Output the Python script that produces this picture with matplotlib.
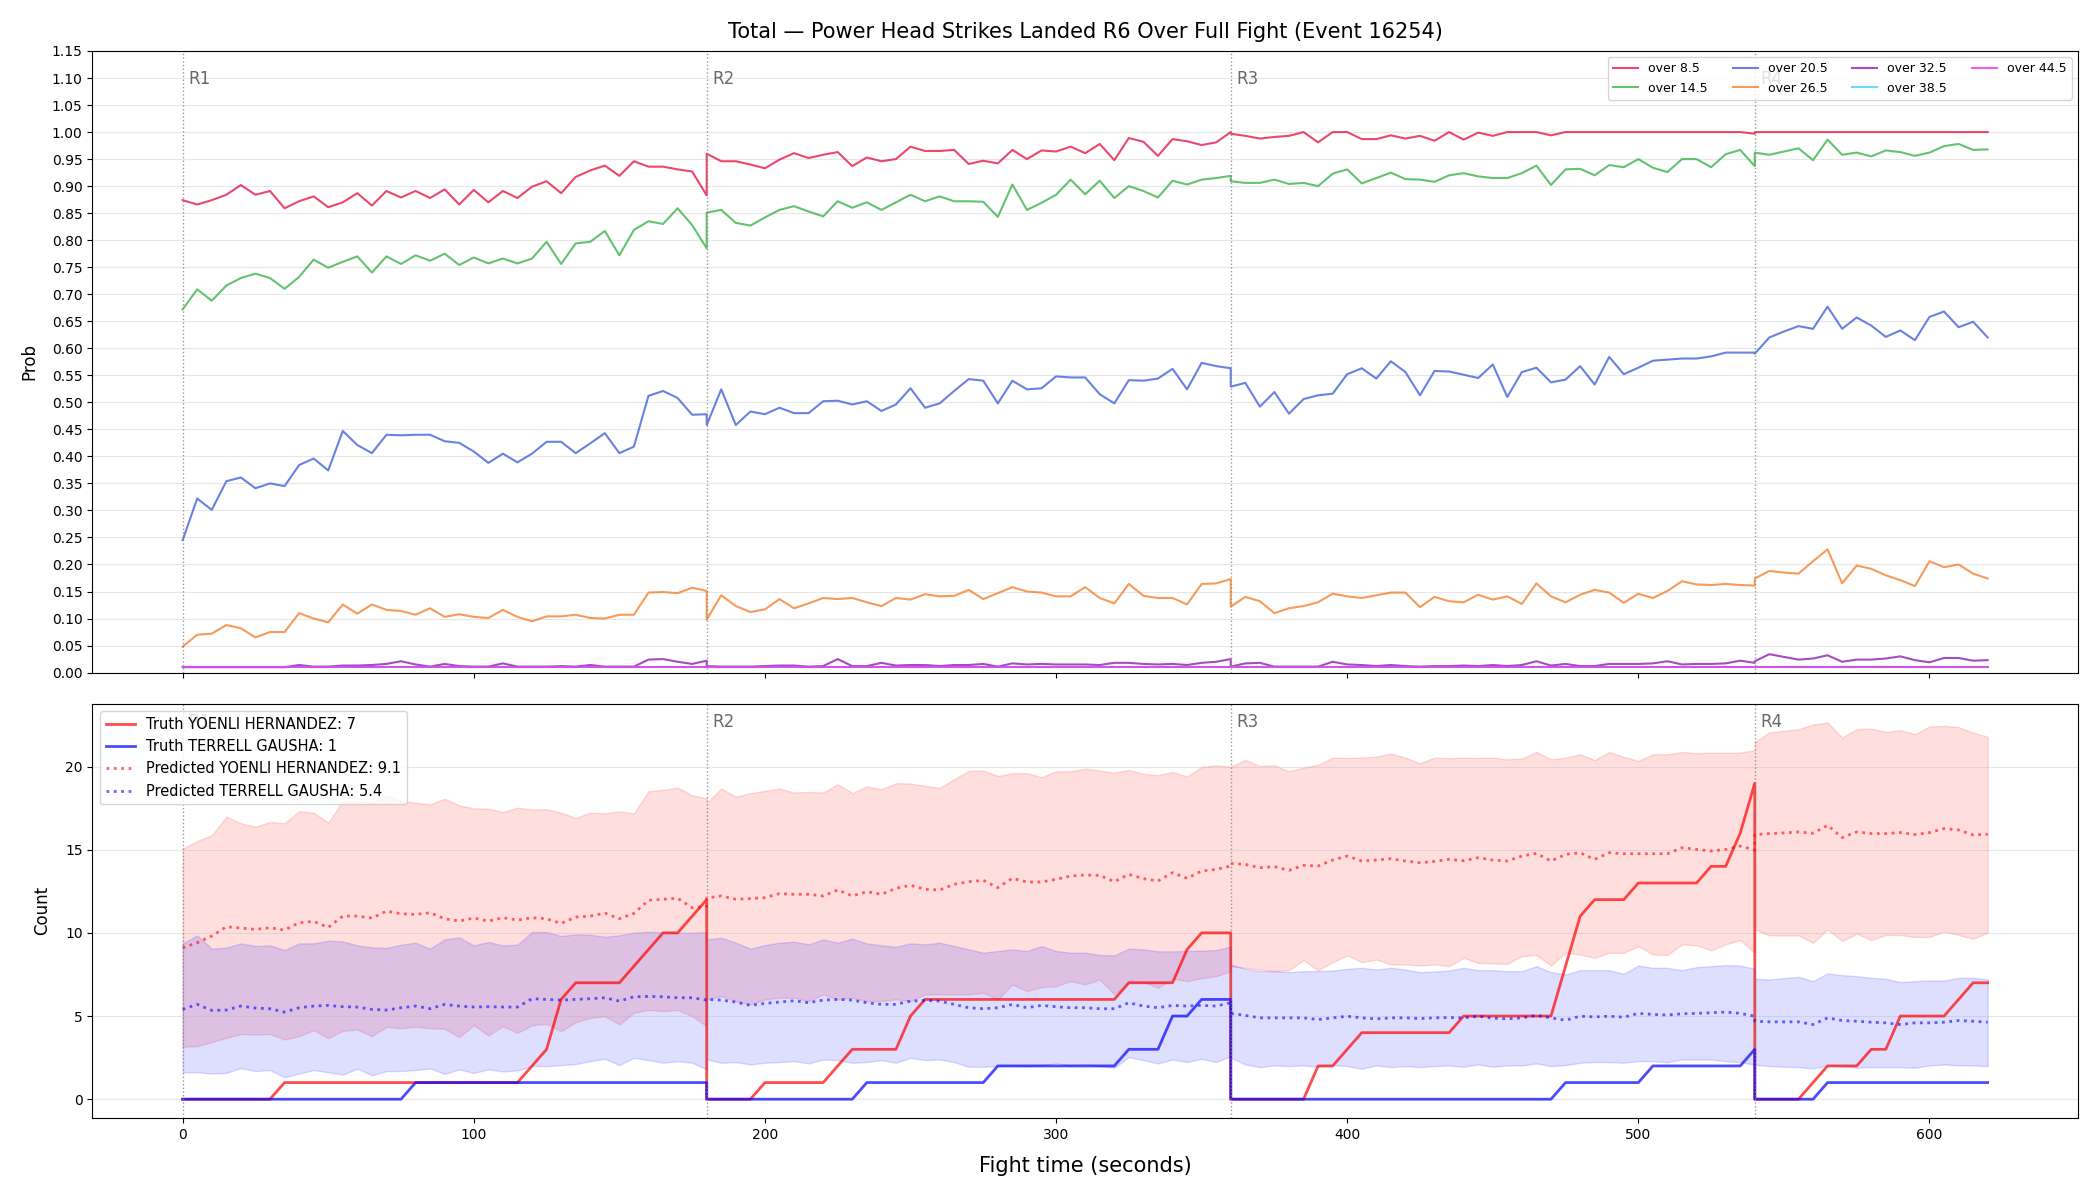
import numpy as np
import matplotlib
matplotlib.use("Agg")
from matplotlib import pyplot as plt

# ---------------- dati ----------------
# griglia temporale (ogni round: 5 s, il primo punto del round coincide con l'ultimo del precedente)
t_r1 = np.arange(0, 181, 5)
t_r2 = np.arange(180, 361, 5)
t_r3 = np.arange(360, 541, 5)
t_r4 = np.arange(540, 621, 5)
t = np.concatenate([t_r1, t_r2, t_r3, t_r4])

round_starts = [0, 180, 360, 540]
round_labels = ["R1", "R2", "R3", "R4"]

# probabilita' over (pannello sopra)
over_8_5 = ([0.874, 0.866, 0.874, 0.884, 0.902, 0.884, 0.891, 0.859, 0.872, 0.881, 0.861, 0.870, 0.887, 0.864, 0.891, 0.879, 0.891, 0.878, 0.894, 0.866, 0.893, 0.870, 0.891, 0.878, 0.899, 0.909, 0.887, 0.917, 0.929, 0.938, 0.919, 0.946, 0.936, 0.936, 0.931, 0.927, 0.883]
            + [0.960, 0.946, 0.946, 0.940, 0.933, 0.949, 0.961, 0.952, 0.958, 0.963, 0.937, 0.953, 0.946, 0.950, 0.973, 0.965, 0.965, 0.967, 0.941, 0.947, 0.942, 0.967, 0.950, 0.966, 0.964, 0.973, 0.961, 0.978, 0.948, 0.989, 0.982, 0.956, 0.987, 0.983, 0.976, 0.981, 1.000]
            + [0.997, 0.993, 0.988, 0.991, 0.993, 1.000, 0.981, 1.000, 1.000, 0.987, 0.987, 0.994, 0.988, 0.993, 0.984, 1.000, 0.986, 0.999, 0.993, 1.000, 1.000, 1.000, 0.994, 1.000, 1.000, 1.000, 1.000, 1.000, 1.000, 1.000, 1.000, 1.000, 1.000, 1.000, 1.000, 1.000, 0.997]
            + [1.000] * 17)
over_14_5 = ([0.672, 0.709, 0.688, 0.716, 0.730, 0.738, 0.730, 0.710, 0.732, 0.764, 0.749, 0.760, 0.770, 0.740, 0.770, 0.756, 0.772, 0.762, 0.775, 0.754, 0.768, 0.757, 0.766, 0.757, 0.766, 0.797, 0.756, 0.794, 0.797, 0.817, 0.772, 0.819, 0.835, 0.830, 0.859, 0.828, 0.785]
             + [0.851, 0.856, 0.832, 0.827, 0.842, 0.856, 0.863, 0.853, 0.844, 0.872, 0.860, 0.870, 0.856, 0.870, 0.884, 0.872, 0.881, 0.872, 0.872, 0.871, 0.843, 0.903, 0.856, 0.869, 0.884, 0.912, 0.885, 0.910, 0.878, 0.900, 0.891, 0.879, 0.910, 0.903, 0.912, 0.915, 0.919]
             + [0.909, 0.906, 0.906, 0.912, 0.904, 0.906, 0.900, 0.923, 0.931, 0.905, 0.915, 0.925, 0.913, 0.912, 0.908, 0.920, 0.924, 0.918, 0.915, 0.915, 0.924, 0.938, 0.902, 0.931, 0.932, 0.920, 0.939, 0.935, 0.950, 0.934, 0.926, 0.950, 0.950, 0.935, 0.959, 0.967, 0.937]
             + [0.962, 0.958, 0.964, 0.970, 0.948, 0.986, 0.958, 0.962, 0.955, 0.966, 0.963, 0.956, 0.962, 0.974, 0.978, 0.967, 0.968])
over_20_5 = ([0.245, 0.322, 0.301, 0.354, 0.361, 0.341, 0.350, 0.345, 0.384, 0.396, 0.374, 0.447, 0.421, 0.406, 0.440, 0.439, 0.440, 0.440, 0.428, 0.425, 0.409, 0.388, 0.405, 0.389, 0.405, 0.427, 0.427, 0.406, 0.424, 0.443, 0.406, 0.418, 0.512, 0.521, 0.508, 0.477, 0.478]
             + [0.458, 0.524, 0.458, 0.483, 0.478, 0.490, 0.480, 0.480, 0.502, 0.503, 0.496, 0.502, 0.484, 0.496, 0.526, 0.490, 0.498, 0.521, 0.543, 0.540, 0.498, 0.540, 0.524, 0.526, 0.548, 0.546, 0.546, 0.515, 0.498, 0.541, 0.540, 0.544, 0.562, 0.524, 0.573, 0.567, 0.563]
             + [0.529, 0.536, 0.492, 0.519, 0.479, 0.506, 0.513, 0.516, 0.552, 0.563, 0.544, 0.576, 0.556, 0.513, 0.558, 0.557, 0.551, 0.545, 0.570, 0.510, 0.556, 0.564, 0.537, 0.542, 0.567, 0.533, 0.584, 0.552, 0.564, 0.577, 0.579, 0.581, 0.581, 0.585, 0.592, 0.592, 0.592]
             + [0.590, 0.620, 0.631, 0.641, 0.636, 0.677, 0.636, 0.657, 0.642, 0.621, 0.633, 0.615, 0.658, 0.668, 0.639, 0.649, 0.620])
over_26_5 = ([0.048, 0.070, 0.072, 0.088, 0.082, 0.065, 0.075, 0.075, 0.110, 0.100, 0.093, 0.126, 0.109, 0.126, 0.116, 0.114, 0.107, 0.119, 0.103, 0.108, 0.103, 0.101, 0.116, 0.103, 0.095, 0.104, 0.104, 0.107, 0.101, 0.100, 0.107, 0.107, 0.148, 0.149, 0.147, 0.157, 0.151]
             + [0.098, 0.143, 0.123, 0.112, 0.117, 0.136, 0.119, 0.128, 0.138, 0.136, 0.138, 0.130, 0.123, 0.138, 0.135, 0.145, 0.141, 0.142, 0.153, 0.136, 0.147, 0.158, 0.150, 0.148, 0.141, 0.141, 0.158, 0.138, 0.128, 0.164, 0.142, 0.138, 0.138, 0.126, 0.164, 0.165, 0.173]
             + [0.122, 0.140, 0.132, 0.110, 0.119, 0.123, 0.130, 0.146, 0.141, 0.138, 0.143, 0.148, 0.148, 0.121, 0.140, 0.132, 0.130, 0.144, 0.135, 0.141, 0.127, 0.165, 0.141, 0.130, 0.144, 0.153, 0.148, 0.129, 0.146, 0.138, 0.151, 0.169, 0.163, 0.162, 0.164, 0.162, 0.161]
             + [0.174, 0.188, 0.185, 0.183, 0.206, 0.228, 0.165, 0.198, 0.192, 0.180, 0.171, 0.160, 0.206, 0.195, 0.200, 0.183, 0.174])
over_32_5 = ([0.010, 0.010, 0.010, 0.010, 0.010, 0.010, 0.010, 0.010, 0.014, 0.011, 0.011, 0.013, 0.013, 0.014, 0.016, 0.021, 0.015, 0.011, 0.016, 0.012, 0.011, 0.011, 0.017, 0.011, 0.011, 0.011, 0.012, 0.011, 0.014, 0.011, 0.011, 0.011, 0.024, 0.025, 0.020, 0.016, 0.022]
             + [0.012, 0.011, 0.011, 0.011, 0.012, 0.013, 0.013, 0.011, 0.012, 0.025, 0.012, 0.012, 0.018, 0.013, 0.014, 0.014, 0.012, 0.014, 0.014, 0.016, 0.011, 0.017, 0.015, 0.016, 0.015, 0.015, 0.015, 0.014, 0.018, 0.018, 0.016, 0.015, 0.016, 0.014, 0.018, 0.020, 0.025]
             + [0.011, 0.017, 0.018, 0.011, 0.011, 0.011, 0.011, 0.020, 0.015, 0.014, 0.012, 0.014, 0.012, 0.011, 0.012, 0.012, 0.013, 0.012, 0.014, 0.012, 0.014, 0.021, 0.013, 0.016, 0.012, 0.012, 0.016, 0.016, 0.016, 0.017, 0.021, 0.015, 0.016, 0.016, 0.017, 0.022, 0.018]
             + [0.021, 0.034, 0.029, 0.024, 0.026, 0.032, 0.020, 0.024, 0.024, 0.026, 0.030, 0.023, 0.019, 0.027, 0.027, 0.022, 0.023])
over_38_5 = [0.010] * 128
over_44_5 = [0.010] * 128

over_labels = ["over 8.5", "over 14.5", "over 20.5", "over 26.5", "over 32.5", "over 38.5", "over 44.5"]
over_colors = ["#e6194b", "#3cb44b", "#4363d8", "#f58231", "#911eb4", "#42d4f4", "#f032e6"]

# conteggi (pannello sotto)
truth_a = ([0] * 7 + [1] * 17 + [2, 3, 6, 7, 7, 7, 7, 8, 9, 10, 10, 11, 12]
           + [0] * 4 + [1] * 5 + [2] + [3] * 4 + [5, 6] + [6] * 13 + [7] * 4 + [9, 10, 10, 10]
           + [0] * 6 + [2, 2, 3, 4] + [4] * 6 + [5] * 7 + [8, 11, 12, 12, 12] + [13] * 5 + [14, 14, 16, 19]
           + [0, 0, 0, 0, 1, 2, 2, 2, 3, 3, 5, 5, 5, 5, 6, 7, 7])
truth_b = ([0] * 16 + [1] * 21
           + [0] * 11 + [1] * 9 + [2] * 9 + [3, 3, 3, 5, 5, 6, 6, 6]
           + [0] * 23 + [1] * 6 + [2] * 7 + [3]
           + [0] * 5 + [1] * 12)

pred_a = ([9.10, 9.41, 9.81, 10.37, 10.29, 10.21, 10.31, 10.17, 10.61, 10.69, 10.33, 11.01, 11.01, 10.89, 11.31, 11.15, 11.11, 11.21, 10.85, 10.71, 10.89, 10.71, 10.91, 10.77, 10.91, 10.85, 10.57, 10.95, 11.01, 11.19, 10.85, 11.17, 11.96, 12.02, 12.08, 11.51, 11.60]
          + [12.10, 12.22, 12.02, 12.06, 12.12, 12.36, 12.32, 12.32, 12.22, 12.58, 12.22, 12.48, 12.32, 12.68, 12.86, 12.62, 12.58, 12.92, 13.08, 13.16, 12.72, 13.28, 13.06, 13.06, 13.22, 13.42, 13.48, 13.46, 13.08, 13.52, 13.26, 13.12, 13.62, 13.28, 13.72, 13.82, 14.02]
          + [14.18, 14.12, 13.92, 13.98, 13.76, 14.06, 14.02, 14.38, 14.62, 14.32, 14.38, 14.46, 14.32, 14.22, 14.30, 14.42, 14.34, 14.52, 14.38, 14.32, 14.62, 14.78, 14.32, 14.72, 14.82, 14.42, 14.82, 14.76, 14.76, 14.76, 14.76, 15.12, 15.02, 14.92, 15.02, 15.22, 14.98]
          + [15.91, 15.97, 16.01, 16.07, 15.99, 16.47, 15.73, 16.07, 15.97, 15.97, 16.03, 15.91, 16.03, 16.27, 16.19, 15.89, 15.93])
pred_a_hi = ([15.06, 15.53, 15.87, 16.99, 16.59, 16.39, 16.67, 16.59, 17.31, 17.23, 16.63, 17.93, 17.93, 17.83, 18.27, 17.93, 17.83, 17.73, 18.07, 17.67, 17.49, 17.47, 17.27, 17.53, 17.43, 17.43, 17.23, 16.91, 17.23, 17.19, 17.31, 17.19, 18.52, 18.60, 18.74, 18.27, 18.10]
             + [17.80, 18.68, 18.19, 18.40, 18.54, 18.68, 18.44, 18.48, 18.44, 18.94, 18.40, 18.80, 18.64, 19.00, 18.98, 18.84, 18.72, 19.24, 19.74, 19.76, 19.44, 19.60, 19.60, 19.36, 19.72, 19.72, 19.88, 19.76, 19.64, 19.80, 19.56, 19.48, 19.68, 19.40, 19.98, 20.08, 20.00]
             + [20.00, 20.40, 20.04, 20.08, 19.72, 19.94, 20.10, 20.54, 20.52, 20.54, 20.60, 20.78, 20.54, 20.20, 20.54, 20.50, 20.54, 20.52, 20.54, 20.44, 20.48, 20.88, 20.44, 20.54, 20.74, 20.40, 20.88, 20.58, 20.34, 20.74, 20.74, 20.88, 20.80, 20.84, 20.82, 20.84, 20.98]
             + [21.48, 22.05, 22.15, 22.25, 22.53, 22.65, 21.75, 22.25, 22.29, 22.09, 22.19, 21.95, 22.41, 22.45, 22.37, 22.05, 21.80])
pred_a_lo = ([3.15, 3.19, 3.43, 3.69, 3.91, 3.89, 3.91, 3.59, 3.79, 4.15, 3.67, 4.11, 4.19, 3.79, 4.35, 4.27, 4.35, 4.27, 4.23, 3.73, 4.45, 3.83, 4.39, 3.99, 4.45, 4.53, 4.09, 4.63, 4.89, 4.99, 4.49, 5.20, 5.36, 5.30, 5.36, 4.99, 4.39]
             + [6.00, 6.20, 5.90, 5.70, 6.00, 6.10, 6.10, 5.90, 6.30, 6.00, 6.10, 5.90, 5.90, 6.00, 5.90, 6.30, 6.30, 6.30, 6.30, 6.40, 6.00, 6.90, 6.50, 6.74, 6.80, 7.10, 6.90, 7.20, 6.30, 7.04, 7.04, 6.70, 7.24, 7.10, 7.28, 7.40, 7.70]
             + [8.00, 7.90, 7.80, 7.70, 7.76, 8.36, 7.74, 8.24, 8.65, 8.24, 8.40, 8.10, 8.10, 8.04, 8.10, 8.00, 8.50, 8.20, 8.16, 8.14, 8.60, 8.67, 8.04, 8.80, 8.70, 8.50, 8.80, 8.80, 9.20, 8.70, 8.67, 9.31, 9.25, 8.95, 9.31, 9.57, 8.80]
             + [10.20, 9.85, 9.85, 9.85, 9.41, 10.21, 9.51, 9.95, 9.57, 9.87, 9.87, 9.75, 9.75, 10.09, 9.87, 9.65, 10.01])

pred_b = ([5.40, 5.70, 5.34, 5.36, 5.60, 5.48, 5.44, 5.24, 5.50, 5.60, 5.64, 5.56, 5.54, 5.40, 5.36, 5.50, 5.60, 5.44, 5.70, 5.60, 5.54, 5.56, 5.54, 5.54, 6.04, 6.00, 5.96, 6.00, 6.04, 6.10, 5.90, 6.16, 6.18, 6.16, 6.10, 6.10, 5.96]
          + [6.00, 5.96, 5.84, 5.64, 5.76, 5.84, 5.92, 5.80, 5.96, 6.00, 5.96, 5.80, 5.70, 5.70, 5.90, 5.94, 5.90, 5.70, 5.50, 5.44, 5.50, 5.70, 5.50, 5.64, 5.56, 5.50, 5.50, 5.44, 5.44, 5.80, 5.60, 5.50, 5.64, 5.60, 5.64, 5.60, 5.80]
          + [5.16, 5.04, 4.89, 4.89, 4.89, 4.89, 4.79, 4.89, 4.99, 4.89, 4.83, 4.89, 4.89, 4.85, 4.89, 4.91, 4.89, 4.99, 4.87, 4.83, 4.89, 5.04, 4.89, 4.75, 4.99, 4.95, 4.99, 4.93, 5.16, 5.10, 5.06, 5.14, 5.16, 5.20, 5.24, 5.16, 4.99]
          + [4.69, 4.65, 4.65, 4.65, 4.49, 4.89, 4.73, 4.69, 4.63, 4.59, 4.49, 4.59, 4.59, 4.63, 4.73, 4.69, 4.63])
pred_b_hi = ([9.37, 9.85, 9.05, 9.11, 9.37, 9.21, 9.25, 8.97, 9.37, 9.37, 9.53, 9.49, 9.25, 9.13, 9.09, 9.29, 9.41, 9.05, 9.61, 9.73, 9.25, 9.45, 9.25, 9.29, 10.05, 10.05, 9.81, 9.91, 9.89, 9.77, 9.85, 10.01, 10.07, 10.03, 10.01, 10.01, 10.05]
             + [9.61, 9.71, 9.41, 9.05, 9.27, 9.41, 9.47, 9.31, 9.61, 9.41, 9.65, 9.37, 9.25, 9.17, 9.37, 9.31, 9.41, 9.21, 9.01, 8.81, 8.91, 9.01, 8.91, 9.21, 8.91, 8.81, 8.81, 8.67, 8.65, 9.05, 9.01, 8.89, 8.89, 8.91, 8.93, 8.97, 9.17]
             + [8.10, 7.84, 7.70, 7.70, 7.64, 7.70, 7.70, 7.74, 7.84, 7.90, 7.80, 7.90, 7.80, 7.64, 7.68, 7.74, 7.90, 7.76, 7.76, 7.70, 7.70, 8.00, 7.64, 7.50, 7.76, 7.76, 7.76, 7.54, 8.04, 7.90, 7.90, 7.76, 7.94, 8.00, 8.06, 8.04, 7.84]
             + [7.24, 7.20, 7.28, 7.36, 7.10, 7.56, 7.46, 7.40, 7.30, 7.24, 7.04, 7.10, 7.14, 7.14, 7.30, 7.30, 7.20])
pred_b_lo = ([1.62, 1.62, 1.54, 1.58, 1.87, 1.69, 1.75, 1.32, 1.54, 1.75, 1.62, 1.48, 1.83, 1.44, 1.69, 1.69, 1.75, 1.85, 1.52, 1.79, 1.58, 1.79, 1.67, 1.73, 1.99, 1.99, 2.05, 2.11, 2.29, 2.43, 2.05, 2.49, 2.35, 2.19, 2.29, 2.19, 1.79]
             + [2.39, 2.19, 2.23, 2.09, 2.19, 2.23, 2.29, 2.15, 2.39, 2.35, 2.19, 2.23, 2.35, 2.19, 2.49, 2.35, 2.39, 2.23, 1.95, 1.95, 1.99, 2.03, 1.99, 2.03, 2.15, 2.03, 2.09, 1.99, 1.89, 2.53, 2.35, 2.15, 2.39, 2.23, 2.43, 2.23, 2.59]
             + [2.49, 2.09, 1.93, 2.03, 1.99, 2.03, 1.95, 2.05, 1.99, 1.83, 2.03, 1.93, 1.99, 1.93, 1.99, 2.03, 1.95, 2.09, 1.95, 2.03, 2.03, 2.15, 1.99, 2.05, 2.19, 2.23, 2.23, 2.19, 2.29, 2.29, 2.23, 2.39, 2.39, 2.39, 2.29, 2.23, 2.07]
             + [2.07, 1.99, 1.95, 1.93, 1.85, 2.03, 1.99, 1.89, 1.93, 1.93, 1.93, 1.89, 2.03, 2.09, 2.03, 2.03, 1.99])

name_a = "YOENLI HERNANDEZ"
name_b = "TERRELL GAUSHA"

# ---------------- grafico ----------------
fig, (ax1, ax2) = plt.subplots(2, 1, figsize=(21, 12), dpi=100, sharex=True,
                               gridspec_kw={"height_ratios": [3, 2]})
fig.subplots_adjust(left=0.044, right=0.9895, top=0.9575, bottom=0.0683, hspace=0.06)

# pannello sopra: probabilita'
overs = [over_8_5, over_14_5, over_20_5, over_26_5, over_32_5, over_38_5, over_44_5]
for serie, lab, col in zip(overs, over_labels, over_colors):
    ax1.plot(t, serie, color=col, lw=1.5, alpha=0.8, label=lab)

ax1.set_ylim(0, 1.15)
ax1.set_yticks(np.arange(0, 1.151, 0.05))
ax1.yaxis.set_major_formatter(matplotlib.ticker.FormatStrFormatter("%.2f"))
ax1.set_ylabel("Prob", fontsize=12, labelpad=10)
ax1.set_title("Total — Power Head Strikes Landed R6 Over Full Fight (Event 16254)", fontsize=15, pad=9)
ax1.grid(axis="y", alpha=0.3)

# pannello sotto: conteggi
ax2.fill_between(t, pred_a_lo, pred_a_hi, color="red", alpha=0.13)
ax2.fill_between(t, pred_b_lo, pred_b_hi, color="blue", alpha=0.13)
ax2.plot(t, truth_a, color="red", lw=2, alpha=0.7, label="Truth {}: {}".format(name_a, truth_a[-1]))
ax2.plot(t, truth_b, color="blue", lw=2, alpha=0.7, label="Truth {}: {}".format(name_b, truth_b[-1]))
ax2.plot(t, pred_a, color="red", lw=2, ls=":", alpha=0.6, label="Predicted {}: {:.1f}".format(name_a, pred_a[0]))
ax2.plot(t, pred_b, color="blue", lw=2, ls=":", alpha=0.6, label="Predicted {}: {:.1f}".format(name_b, pred_b[0]))
ax2.set_ylabel("Count", fontsize=12, labelpad=10)
ax2.set_xlabel("Fight time (seconds)", fontsize=15, labelpad=10)
ax2.grid(axis="y", alpha=0.3)

# linee dei round
for ax in (ax1, ax2):
    for x0, lab in zip(round_starts, round_labels):
        ax.axvline(x0, color="gray", ls=":", lw=1, alpha=0.8)
        ax.text(x0 + 2, 0.955, lab, transform=ax.get_xaxis_transform(),
                color="dimgray", fontsize=12, ha="left", va="center")

ax1.legend(loc="upper right", ncol=4, fontsize=9)
ax2.legend(loc="upper left", fontsize=10.5)

plt.savefig("out.png")
